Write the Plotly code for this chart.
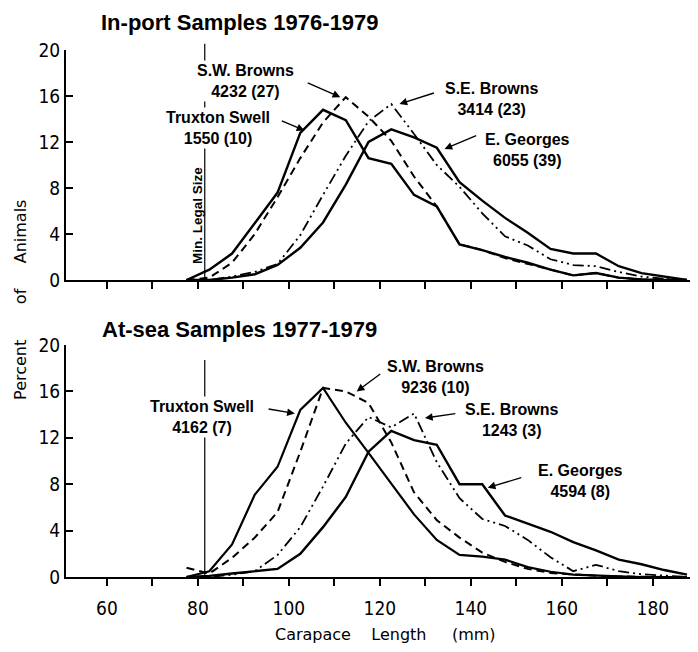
import plotly.graph_objects as go

# ---------------- data (5-mm size classes, class midpoints) ----------------
lengths = [77.5, 82.5, 87.5, 92.5, 97.5, 102.5, 107.5, 112.5, 117.5, 122.5, 127.5, 132.5,
           137.5, 142.5, 147.5, 152.5, 157.5, 162.5, 167.5, 172.5, 177.5, 182.5, 187.5]

# In-port samples 1976-1979 (percent of animals)
port_truxton = [0, 0.9, 2.3, 5.0, 7.6, 12.8, 14.8, 13.9, 10.6, 10.1, 7.4, 6.4,
                3.1, 2.6, 2.0, 1.5, 0.9, 0.4, 0.6, 0.2, 0.05, 0, 0]
port_swbrowns = [0, 0.2, 1.5, 4.0, 7.2, 10.6, 13.7, 15.9, 14.2, 12.1, 9.0, 6.4,
                 3.1, 2.6, 1.9, 1.4, 0.9, 0.4, 0.6, 0.2, 0.05, 0, 0]
port_sebrowns = [0, 0, 0.3, 0.7, 1.4, 3.9, 7.4, 10.8, 13.8, 15.3, 12.7, 10.0,
                 8.1, 5.8, 3.8, 3.0, 1.8, 1.3, 1.2, 0.7, 0.3, 0.1, 0]
port_egeorges = [0, 0, 0.2, 0.5, 1.3, 2.8, 5.0, 8.3, 12.0, 13.1, 12.4, 11.5,
                 8.5, 6.9, 5.4, 4.1, 2.7, 2.3, 2.3, 1.2, 0.6, 0.3, 0]

# At-sea samples 1977-1979 (percent of animals)
sea_truxton = [0, 0.5, 2.8, 7.1, 9.5, 14.4, 16.3, 13.3, 10.7, 8.1, 5.4, 3.2,
               1.9, 1.75, 1.5, 0.85, 0.45, 0.2, 0.1, 0.05, 0, 0, 0]
sea_swbrowns = [0.8, 0.3, 1.65, 3.4, 5.6, 10.8, 16.3, 16.0, 15.0, 11.6, 7.3, 4.9,
                3.4, 2.1, 1.3, 0.7, 0.35, 0.2, 0.1, 0.05, 0, 0, 0]
sea_sebrowns = [0, 0, 0.2, 0.5, 1.9, 4.3, 7.8, 11.5, 13.8, 12.9, 14.1, 9.9,
                6.8, 5.0, 4.4, 3.2, 1.7, 0.5, 1.05, 0.5, 0.25, 0.1, 0]
sea_egeorges = [0, 0.1, 0.3, 0.5, 0.7, 2.0, 4.3, 6.9, 10.8, 12.6, 11.8, 11.4,
                8.0, 8.0, 5.3, 4.6, 3.9, 3.0, 2.3, 1.5, 1.1, 0.6, 0.2]

min_legal_size = 81.5

x_tickvals = [60, 70, 80, 90, 100, 110, 120, 130, 140, 150, 160, 170, 180]
x_ticktext = ["60", "", "80", "", "100", "", "120", "", "140", "", "160", "", "180"]
y_tickvals = [0, 4, 8, 12, 16, 20]

port_labels = ["S.W. Browns<br>4232 (27)", "Truxton Swell<br>1550 (10)",
               "S.E. Browns<br>3414 (23)", "E. Georges<br>6055 (39)"]
sea_labels = ["S.W. Browns<br>9236 (10)", "Truxton Swell<br>4162 (7)",
              "S.E. Browns<br>1243 (3)", "E. Georges<br>4594 (8)"]

# ---------------- figure ----------------
SOLID = "solid"
DASH = "8px,5px"
DASHDOTDOT = "11px,4px,2px,4px,2px,4px"

fig = go.Figure()

def add_panel(series, xa, ya):
    for vals, dash, w in series:
        fig.add_trace(go.Scatter(x=lengths, y=vals, mode="lines", xaxis=xa, yaxis=ya,
                                 line=dict(color="black", width=w, dash=dash),
                                 showlegend=False, hoverinfo="skip"))

add_panel([(port_truxton, SOLID, 2.4), (port_swbrowns, DASH, 2.0),
           (port_sebrowns, DASHDOTDOT, 1.8), (port_egeorges, SOLID, 2.4)], "x", "y")
add_panel([(sea_truxton, SOLID, 2.2), (sea_swbrowns, DASH, 2.0),
           (sea_sebrowns, DASHDOTDOT, 1.8), (sea_egeorges, SOLID, 2.4)], "x2", "y2")

tick_font = dict(family="Liberation Sans Narrow, DejaVu Sans Condensed, Liberation Sans, sans-serif",
                 size=19, color="black")
x_common = dict(range=[51, 189.7], showline=True, linecolor="black", linewidth=2,
                ticks="outside", ticklen=7, tickwidth=1.5, tickcolor="black",
                tickvals=x_tickvals, showgrid=False, zeroline=False)
y_common = dict(range=[0, 20], showline=True, linecolor="black", linewidth=2,
                ticks="inside", ticklen=7, tickwidth=1.5, tickcolor="black",
                tickvals=y_tickvals, showgrid=False, zeroline=False, tickfont=tick_font)

# page body has an 8px margin: size the figure so that it fills the 698x652 window
fig.update_layout(
    width=690, height=644,
    margin=dict(l=58, r=1, t=42, b=75),
    paper_bgcolor="white", plot_bgcolor="white",
    xaxis=dict(domain=[0, 1], anchor="y", showticklabels=False, **x_common),
    yaxis=dict(domain=[0.5636, 1], anchor="x", **y_common),
    xaxis2=dict(domain=[0, 1], anchor="y2", ticktext=x_ticktext, tickfont=tick_font,
                ticklabelstandoff=6, **x_common),
    yaxis2=dict(domain=[0, 0.4402], anchor="x2", **y_common),
)

# minimum legal size lines
fig.add_shape(type="line", xref="x", yref="paper", x0=min_legal_size, x1=min_legal_size,
              y0=0.5636, y1=1.012, line=dict(color="black", width=1.2))
fig.add_shape(type="line", xref="x2", yref="paper", x0=min_legal_size, x1=min_legal_size,
              y0=0.0, y1=0.412, line=dict(color="black", width=1.2))

label_font = dict(family="Liberation Sans, Arial, sans-serif", size=16, color="black", weight="bold")

def label(text, x, y, xa, ya):
    fig.add_annotation(text=text, x=x, y=y, xref=xa, yref=ya, showarrow=False,
                       xanchor="center", yanchor="middle",
                       font=label_font, align="center", bgcolor="white", borderpad=1)

def arrow(xh, yh, xt, yt, xa, ya):
    fig.add_annotation(text="", x=xh, y=yh, ax=xt, ay=yt, xref=xa, yref=ya,
                       axref=xa, ayref=ya, showarrow=True, arrowhead=2,
                       arrowsize=1.1, arrowwidth=1.4, arrowcolor="black")

# top panel labels
label(port_labels[0], 90.4, 17.3, "x", "y")
label(port_labels[1], 84.4, 13.2, "x", "y")
label(port_labels[2], 144.6, 15.7, "x", "y")
label(port_labels[3], 152.5, 11.3, "x", "y")
arrow(111.3, 15.9, 103.8, 17.2, "x", "y")
arrow(103.4, 13.0, 98.1, 13.9, "x", "y")
arrow(124.3, 15.3, 132.2, 16.3, "x", "y")
arrow(134.2, 11.4, 141.5, 12.6, "x", "y")

fig.add_annotation(text="Min. Legal Size", x=79.9, y=5.6, xref="x", yref="y",
                   showarrow=False, textangle=-90, xanchor="center", yanchor="middle",
                   font=dict(family="Liberation Sans, Arial, sans-serif", size=13.5,
                             color="black", weight="bold"))

# bottom panel labels
label(sea_labels[0], 132.2, 17.2, "x2", "y2")
label(sea_labels[1], 80.8, 13.8, "x2", "y2")
label(sea_labels[2], 149.0, 13.5, "x2", "y2")
label(sea_labels[3], 164.0, 8.3, "x2", "y2")
arrow(114.9, 16.0, 120.4, 17.6, "x2", "y2")
arrow(101.3, 14.1, 95.2, 14.5, "x2", "y2")
arrow(129.9, 13.7, 136.9, 14.1, "x2", "y2")
arrow(143.7, 7.7, 151.4, 8.6, "x2", "y2")

# panel titles
title_font = dict(family="Liberation Sans, Arial, sans-serif", size=22, color="black", weight="bold")
fig.add_annotation(text="In-port Samples 1976-1979", x=0.054, y=1.0787, xref="paper", yref="paper",
                   xanchor="left", yanchor="top", showarrow=False, font=title_font, borderpad=0)
fig.add_annotation(text="At-sea Samples 1977-1979", x=0.054, y=0.4687, xref="paper", yref="paper",
                   xanchor="left", yanchor="middle", showarrow=False, font=title_font)

# axis titles
axis_font = dict(family="DejaVu Sans, sans-serif", size=16, color="black")
nb = "\u00a0"
fig.add_annotation(text="Percent" + nb * 7 + "of" + nb * 5 + "Animals", x=-0.073, y=0.5256,
                   xref="paper", yref="paper", textangle=-90, showarrow=False,
                   xanchor="center", yanchor="middle", font=axis_font)
fig.add_annotation(text="Carapace" + nb * 4 + "Length" + nb * 5 + "(mm)", x=0.506, y=-0.110,
                   xref="paper", yref="paper", showarrow=False,
                   xanchor="center", yanchor="middle", font=axis_font)

fig.write_html("out.html")
